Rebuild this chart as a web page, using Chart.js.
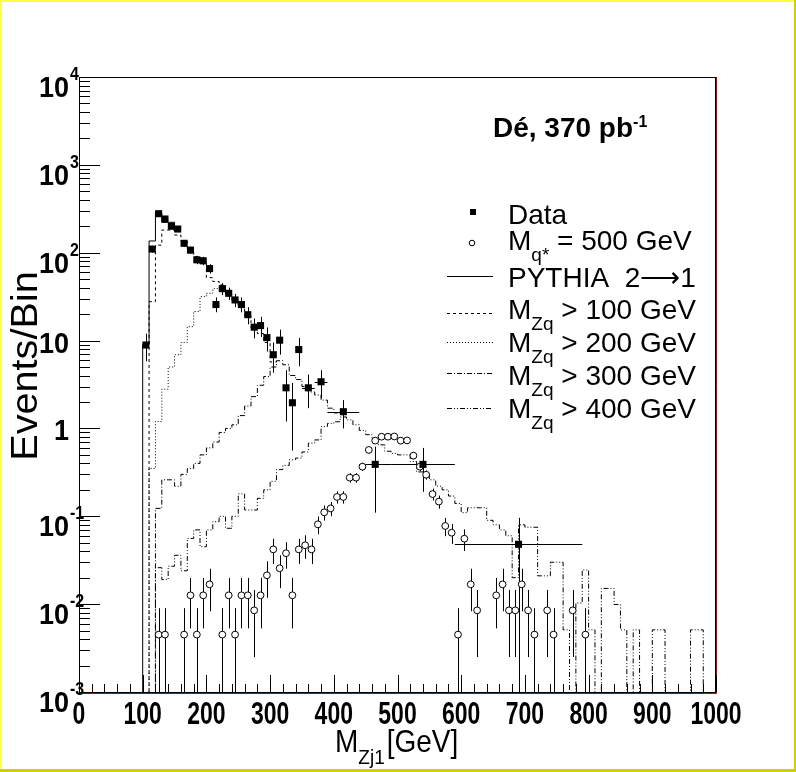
<!DOCTYPE html>
<html>
<head>
<meta charset="utf-8">
<script src="https://cdn.jsdelivr.net/npm/chart.js@4.4.0/dist/chart.umd.min.js"></script>
<style>
  body { margin: 0; background: #fff; }
  canvas { display: block; }
</style>
</head>
<body>
<canvas id="c" width="796" height="772"></canvas>
<script>
// ---- data ----
// histogram bins: 10 GeV wide starting at 100 GeV
const binStart = 100;
const binWidth = 10;

// PYTHIA 2->1 (solid), only visible at the low-mass edge
const pythia = [9, 136, 283, 222, 222, 190];

// each curve is drawn until it merges into the next one
const zq100 = [0, 27.7, 122, 181, 181, 159, 135, 112, 90, 75, 52, 47, 43, 34, 28, 24, 19, 14, 12, 9.5, 5.7];
const zq200 = [0, 0.35, 1.2, 2.8, 5.0, 6.9, 9.5, 14.4, 21.4, 31.6, 34.5, 39, 40];
const zq300 = [0, 0, 0.123, 0.26, 0.26, 0.22, 0.3, 0.35, 0.4, 0.5, 0.6, 0.7, 0.9, 1.0, 1.1, 1.4, 1.8, 2.3, 3.1, 3.9,
               5.0, 5.9, 5.3, 4.0, 3.6, 3.0, 2.6, 2.4, 2.1, 1.7, 1.5];
const zq400 = [0, 0, 0.026, 0.019, 0.027, 0.036, 0.024, 0.056, 0.07, 0.045, 0.07, 0.087, 0.1, 0.073, 0.1, 0.18, 0.118, 0.118, 0.16, 0.2,
               0.25, 0.34, 0.38, 0.44, 0.46, 0.54, 0.68, 0.74, 1.05, 1.14, 1.19, 1.35, 1.25, 1.1, 0.95, 0.85,
               0.75, 0.65, 0.55, 0.52, 0.5, 0.5, 0.42, 0.32, 0.3, 0.26,
               0.22, 0.2, 0.17, 0.14, 0.11, 0.125, 0.125, 0.125, 0.09, 0.08,
               0.07, 0.06, 0.02, 0.08, 0.075, 0.075, 0.021, 0.021, 0.03, 0.03,
               0.0051, 0, 0.0103, 0.0245, 0.0051, 0, 0.0151, 0.0151, 0.0099, 0.0051,
               0, 0.0051, 0, 0, 0.0051, 0.0051, 0, 0, 0, 0,
               0.0051, 0.0051, 0, 0];

// data points
const dataX   = [105, 115, 125, 135, 145, 155, 165, 175, 185, 195, 205, 215, 225, 235, 245, 255, 265, 275, 285, 295,
                 305, 315, 325, 335, 345, 360, 380, 415, 465, 540, 690];
const dataY   = [8.9, 110, 278, 242, 200, 186, 128, 107, 83, 81, 66, 25.7, 39, 34.5, 29, 25.7, 19.7, 14.2, 14.8, 10.8,
                 6.9, 10.1, 2.9, 1.96, 7.9, 2.9, 3.4, 1.55, 0.39, 0.39, 0.048];
const dataLo  = [5.8, 100, 262, 227, 186, 172, 117, 97, 74, 72, 58, 21, 33, 29, 24, 21, 15.3, 10.6, 11, 7.5,
                 4.3, 6.9, 1.2, 0.56, 5.1, 1.7, 2.2, 1.0, 0.11, 0.19, 0];
const dataHi  = [12, 120, 295, 258, 214, 200, 139, 117, 92, 90, 74, 31, 45, 40, 34, 31, 24, 17.8, 18.6, 14.1,
                 9.5, 13.3, 4.6, 3.3, 10.7, 4.1, 4.6, 2.1, 0.62, 0.6, 0.096];
const dataBinLo = [100, 110, 120, 130, 140, 150, 160, 170, 180, 190, 200, 210, 220, 230, 240, 250, 260, 270, 280, 290,
                   300, 310, 320, 330, 340, 350, 370, 390, 440, 490, 590];
const dataBinHi = [110, 120, 130, 140, 150, 160, 170, 180, 190, 200, 210, 220, 230, 240, 250, 260, 270, 280, 290, 300,
                   310, 320, 330, 340, 350, 370, 390, 440, 490, 590, 790];

// signal M_q* = 500 GeV
const sigX = [125, 135, 165, 175, 185, 195, 205, 225, 235, 245, 255, 265, 275, 285, 295, 305, 315, 325, 335, 345,
              355, 365, 375, 385, 395, 405, 415, 425, 435, 445, 455, 465, 475, 485, 495, 505, 515, 525, 535, 545,
              555, 565, 575, 585, 595, 605, 615, 625, 655, 665, 675, 685, 695, 705, 715, 735, 745, 775, 795];
const sigY = [0.0045, 0.0045, 0.0045, 0.0126, 0.0045, 0.0126, 0.0168, 0.0045, 0.0126, 0.0045, 0.0126, 0.0126, 0.0085, 0.0126, 0.0213, 0.042, 0.0256, 0.038, 0.0126, 0.042,
              0.0468, 0.042, 0.081, 0.111, 0.123, 0.166, 0.166, 0.275, 0.275, 0.367, 0.569, 0.726, 0.805, 0.805, 0.81, 0.726, 0.73, 0.49, 0.367, 0.297,
              0.179, 0.147, 0.0776, 0.065, 0.0045, 0.0556, 0.0168, 0.0085, 0.0126, 0.0168, 0.0085, 0.0085, 0.0168, 0.0085, 0.0045, 0.0085, 0.0045, 0.0085, 0.0045];
const sigErr = [0.0045, 0.0045, 0.0045, 0.0073, 0.0045, 0.0073, 0.0085, 0.0045, 0.0073, 0.0045, 0.0073, 0.0073, 0.006, 0.0073, 0.0095, 0.0134, 0.0104, 0.0127, 0.0073, 0.0134,
                0.014, 0.0134, 0.0186, 0.0217, 0.0229, 0.0266, 0.0266, 0.034, 0.034, 0.0395, 0.049, 0.0555, 0.0585, 0.0585, 0.0587, 0.0555, 0.0557, 0.0456, 0.0395, 0.0355,
                0.0276, 0.025, 0.0182, 0.0166, 0.0045, 0.0154, 0.0085, 0.006, 0.0073, 0.0085, 0.006, 0.006, 0.0085, 0.006, 0.0045, 0.006, 0.0045, 0.006, 0.0045];

// axis ticks
const xTicks = [0, 100, 200, 300, 400, 500, 600, 700, 800, 900, 1000];
const yExp = [-3, -2, -1, 0, 1, 2, 3, 4];

const legendItems = [
  { type: 'square', text: 'Data' },
  { type: 'circle', text: 'M', sub: 'q*', rest: ' = 500 GeV' },
  { type: 'line', dash: [], text: 'PYTHIA  2\u27F61' },
  { type: 'line', dash: [3, 3], text: 'M', sub: 'Zq', rest: ' > 100 GeV' },
  { type: 'line', dash: [1, 2], text: 'M', sub: 'Zq', rest: ' > 200 GeV' },
  { type: 'line', dash: [5, 2, 1, 2], text: 'M', sub: 'Zq', rest: ' > 300 GeV' },
  { type: 'line', dash: [5, 2, 1, 2, 1, 2], text: 'M', sub: 'Zq', rest: ' > 400 GeV' }
];

// ---- build datasets ----
const FLOOR = 1e-6;
function histPoints(values, close) {
  const pts = [{ x: binStart, y: FLOOR }];
  values.forEach((v, i) => {
    pts.push({ x: binStart + i * binWidth, y: v > 0 ? v : FLOOR });
  });
  const last = values[values.length - 1];
  const end = binStart + values.length * binWidth;
  pts.push({ x: end, y: last > 0 ? last : FLOOR });
  if (close) pts.push({ x: end, y: FLOOR });
  return pts;
}

function histDataset(values, dash, order, close) {
  return {
    type: 'line',
    data: histPoints(values, close),
    stepped: 'before',
    borderColor: '#000',
    borderWidth: 1,
    borderDash: dash,
    pointRadius: 0,
    fill: false,
    clip: 0,
    order: order
  };
}

const datasets = [
  histDataset(zq100, [3, 3], 10, false),
  histDataset(zq200, [1, 2], 9, false),
  histDataset(zq300, [5, 2, 1, 2], 8, false),
  histDataset(zq400, [5, 2, 1, 2, 1, 2], 7, true),
  histDataset(pythia, [], 6, false),
  {
    type: 'scatter',
    data: sigX.map((x, i) => ({ x: x, y: sigY[i] })),
    pointStyle: 'circle',
    pointRadius: 3.4,
    pointBackgroundColor: '#fff',
    pointBorderColor: '#000',
    pointBorderWidth: 1,
    order: 2
  },
  {
    type: 'scatter',
    data: dataX.map((x, i) => ({ x: x, y: dataY[i] })),
    pointStyle: 'rect',
    pointRadius: 5,
    pointBackgroundColor: '#000',
    pointBorderColor: '#000',
    pointBorderWidth: 0,
    order: 1
  }
];

// ---- text helper (ROOT fonts look stretched vertically) ----
function drawText(ctx, s, x, y, font, align, sx, sy) {
  ctx.save();
  ctx.translate(x, y);
  ctx.scale(sx || 1, sy || 1);
  ctx.font = font;
  ctx.textAlign = align || 'left';
  ctx.textBaseline = 'alphabetic';
  ctx.fillStyle = '#000';
  ctx.fillText(s, 0, 0);
  const w = ctx.measureText(s).width * (sx || 1);
  ctx.restore();
  return w;
}

const decor = {
  id: 'decor',
  beforeDraw(chart) {
    const ctx = chart.ctx;
    ctx.save();
    ctx.fillStyle = '#fff';
    ctx.fillRect(0, 0, chart.width, chart.height);
    ctx.fillStyle = '#ffff40';
    ctx.fillRect(0, 0, chart.width, 2);
    ctx.fillRect(0, 0, 2, chart.height);
    ctx.fillStyle = '#d0d000';
    ctx.fillRect(chart.width - 2, 0, 2, chart.height);
    ctx.fillRect(0, chart.height - 3, chart.width, 3);
    ctx.restore();
  },
  beforeDatasetsDraw(chart) {
    const ctx = chart.ctx;
    const xs = chart.scales.x, ys = chart.scales.y;
    const area = chart.chartArea;
    ctx.save();
    ctx.beginPath();
    ctx.rect(area.left, area.top, area.right - area.left, area.bottom - area.top);
    ctx.clip();
    ctx.strokeStyle = '#000';
    ctx.lineWidth = 1;
    // signal error bars
    sigX.forEach((x, i) => {
      const px = Math.round(xs.getPixelForValue(x)) + 0.5;
      const lo = sigY[i] - sigErr[i];
      const yTop = ys.getPixelForValue(sigY[i] + sigErr[i]);
      const yBot = lo > ys.min ? ys.getPixelForValue(lo) : area.bottom;
      ctx.beginPath();
      ctx.moveTo(px, yTop);
      ctx.lineTo(px, yBot);
      ctx.stroke();
    });
    // data error bars
    dataX.forEach((x, i) => {
      const px = Math.round(xs.getPixelForValue(x)) + 0.5;
      const py = Math.round(ys.getPixelForValue(dataY[i])) + 0.5;
      const yTop = ys.getPixelForValue(dataHi[i]);
      const yBot = dataLo[i] > ys.min ? ys.getPixelForValue(dataLo[i]) : area.bottom;
      ctx.beginPath();
      ctx.moveTo(px, yTop);
      ctx.lineTo(px, yBot);
      ctx.moveTo(xs.getPixelForValue(dataBinLo[i]), py);
      ctx.lineTo(xs.getPixelForValue(dataBinHi[i]), py);
      ctx.stroke();
    });
    ctx.restore();
  },
  afterDatasetsDraw(chart) {
    const ctx = chart.ctx;
    const xs = chart.scales.x, ys = chart.scales.y;
    const a = chart.chartArea;
    const L = Math.round(a.left), T = Math.round(a.top), R = Math.round(a.right) - 1, B = Math.round(a.bottom);
    ctx.save();
    ctx.lineWidth = 1;
    // frame with red shadow on bottom/right
    ctx.strokeStyle = '#c00000';
    ctx.beginPath();
    ctx.moveTo(L, B + 1.5); ctx.lineTo(R + 1.5, B + 1.5); ctx.lineTo(R + 1.5, T);
    ctx.stroke();
    ctx.strokeStyle = '#000';
    ctx.strokeRect(L + 0.5, T + 0.5, R - L, B - T);

    // x ticks
    ctx.beginPath();
    for (let v = 0; v <= 1000; v += 20) {
      const px = Math.round(xs.getPixelForValue(v)) + 0.5;
      const len = v % 100 === 0 ? 17 : 8;
      ctx.moveTo(px, B);
      ctx.lineTo(px, B - len);
    }
    // y ticks
    yExp.forEach(e => {
      const py = Math.round(ys.getPixelForValue(Math.pow(10, e))) + 0.5;
      ctx.moveTo(L, py); ctx.lineTo(L + 21, py);
      if (e < 4) {
        for (let m = 2; m <= 9; m++) {
          const q = Math.round(ys.getPixelForValue(m * Math.pow(10, e))) + 0.5;
          ctx.moveTo(L, q); ctx.lineTo(L + 11, q);
        }
      }
    });
    ctx.stroke();

    // x tick labels
    xTicks.forEach(v => {
      drawText(ctx, String(v), xs.getPixelForValue(v), 724, 'bold 23px "Liberation Sans"', 'center', 1, 1.35);
    });
    // y tick labels
    yExp.forEach(e => {
      const py = ys.getPixelForValue(Math.pow(10, e));
      if (e === 0) {
        drawText(ctx, '1', 69, py + 12, 'bold 27px "Liberation Sans"', 'right', 1, 1.1);
      } else if (e === 1) {
        drawText(ctx, '10', 69, py + 12, 'bold 27px "Liberation Sans"', 'right', 1, 1.1);
      } else {
        drawText(ctx, '10', 69, py + 20, 'bold 27px "Liberation Sans"', 'right', 1, 1.1);
        drawText(ctx, String(e), 70, py + 3, 'bold 16px "Liberation Sans"', 'left', 1, 1.1);
      }
    });

    // axis titles
    let x0 = 335;
    x0 += drawText(ctx, 'M', x0, 752, '28px "Liberation Sans"', 'left', 1, 1.1);
    x0 += drawText(ctx, 'Zj1', x0, 764, '19px "Liberation Sans"', 'left', 1, 1.1);
    drawText(ctx, '[GeV]', x0 + 2, 752, '28px "Liberation Sans"', 'left', 1, 1.1);

    ctx.save();
    ctx.translate(37, 366);
    ctx.rotate(-Math.PI / 2);
    drawText(ctx, 'Events/Bin', 0, 0, '36px "Liberation Sans"', 'center', 1.1, 1);
    ctx.restore();

    // luminosity label
    let lx = 493;
    lx += drawText(ctx, 'D\u00e9, 370 pb', lx, 137, 'bold 28px "Liberation Sans"', 'left', 1, 1);
    drawText(ctx, '-1', lx, 127, 'bold 16px "Liberation Sans"', 'left', 1, 1);

    // legend
    const baselines = [224, 250, 287, 319, 352, 385, 418];
    const lineYs = [212, 243, 276, 313, 342, 373, 408];
    legendItems.forEach((it, i) => {
      const y = lineYs[i];
      ctx.strokeStyle = '#000';
      ctx.fillStyle = '#000';
      if (it.type === 'square') {
        ctx.fillRect(470, y - 3, 6, 6);
      } else if (it.type === 'circle') {
        ctx.beginPath();
        ctx.arc(472, y, 2.8, 0, Math.PI * 2);
        ctx.stroke();
      } else {
        ctx.setLineDash(it.dash);
        ctx.beginPath();
        ctx.moveTo(447, y + 0.5);
        ctx.lineTo(493, y + 0.5);
        ctx.stroke();
        ctx.setLineDash([]);
      }
      let tx = 508;
      tx += drawText(ctx, it.text, tx, baselines[i], '28px "Liberation Sans"', 'left', 1, 1);
      if (it.sub) {
        tx += drawText(ctx, it.sub, tx, baselines[i] + 11, '19px "Liberation Sans"', 'left', 1, 1);
        drawText(ctx, it.rest, tx, baselines[i], '28px "Liberation Sans"', 'left', 1, 1);
      }
    });
    ctx.restore();
  }
};

const chart = new Chart(document.getElementById('c').getContext('2d'), {
  type: 'line',
  data: { datasets: datasets },
  options: {
    responsive: false,
    animation: false,
    layout: { padding: { left: 79, top: 77, right: 80, bottom: 80 } },
    scales: {
      x: { type: 'linear', min: 0, max: 1000, display: false },
      y: { type: 'logarithmic', min: 0.001, max: 10000, display: false }
    },
    plugins: {
      legend: { display: false },
      tooltip: { enabled: false }
    }
  },
  plugins: [decor]
});
</script>
</body>
</html>
